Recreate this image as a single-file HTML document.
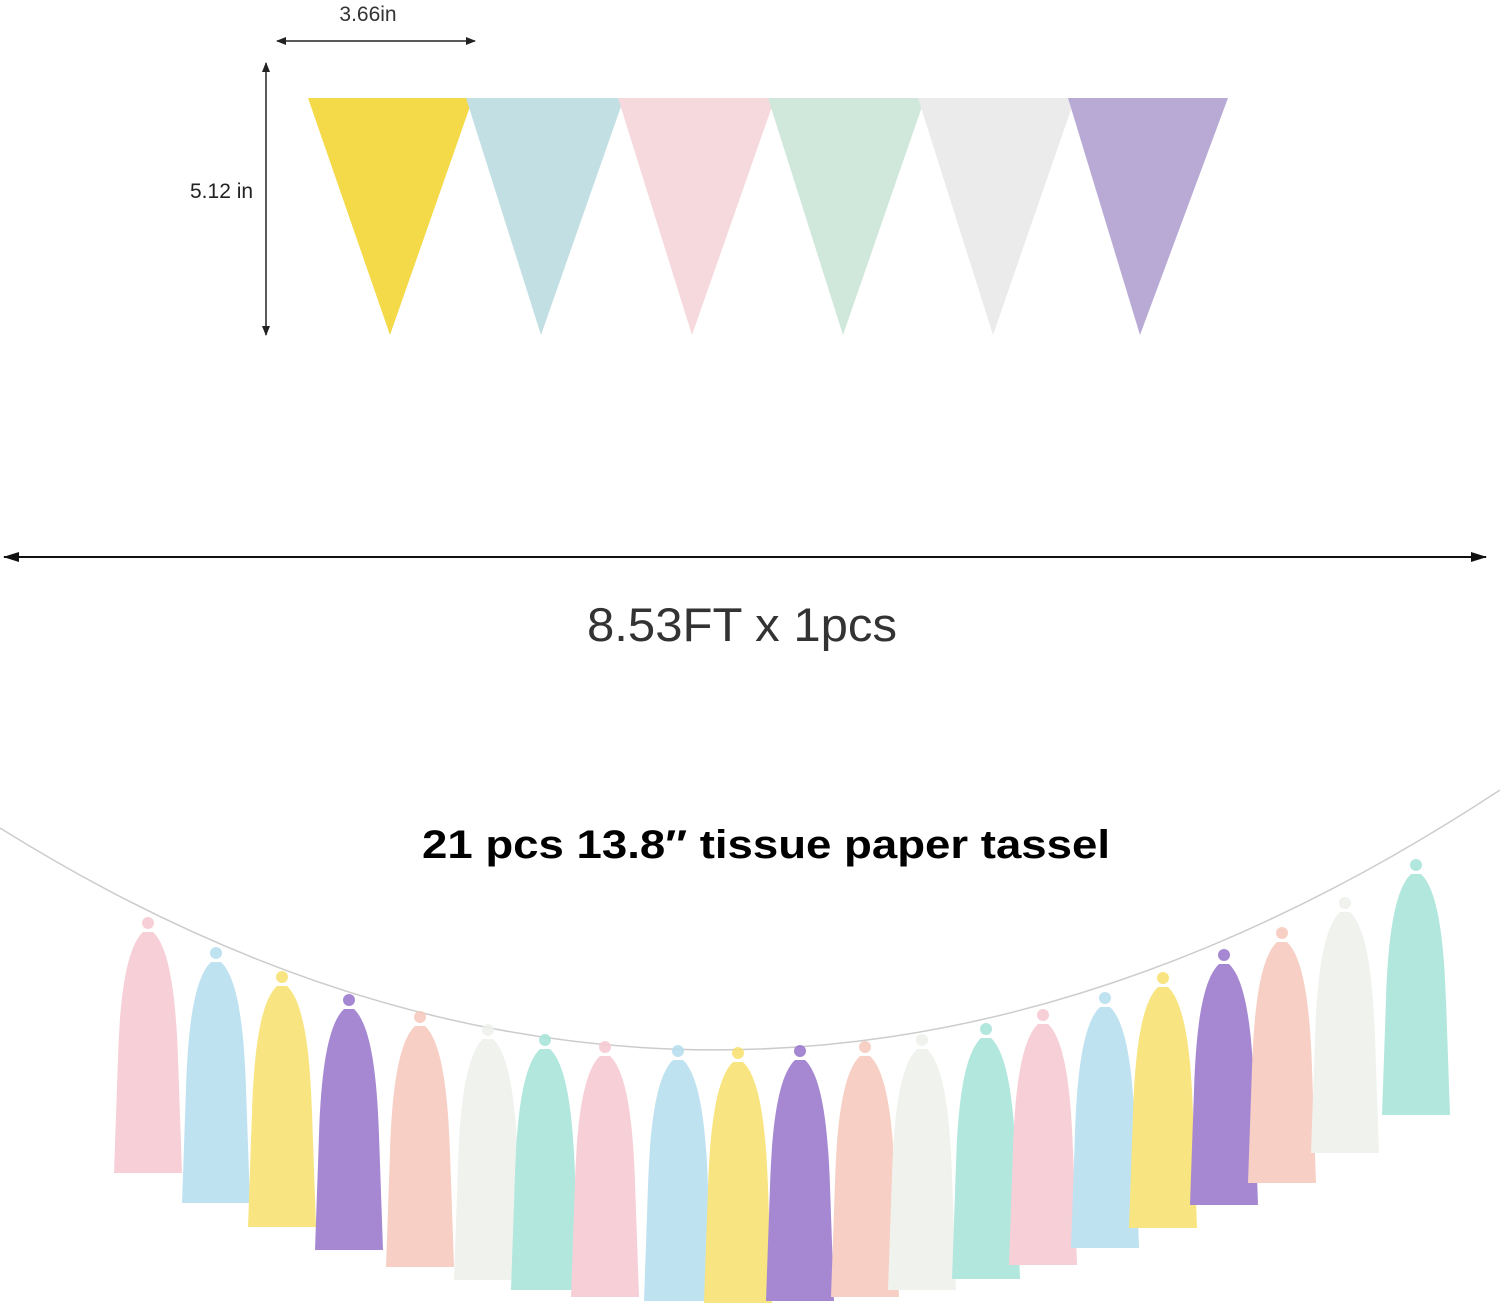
<!DOCTYPE html>
<html><head><meta charset="utf-8"><style>
html,body{margin:0;padding:0;background:#fff;}
svg{display:block}
</style></head><body>
<svg width="1500" height="1314" viewBox="0 0 1500 1314" xmlns="http://www.w3.org/2000/svg">
<defs>
<marker id="ah" markerWidth="10" markerHeight="8" refX="9" refY="4" orient="auto-start-reverse" markerUnits="userSpaceOnUse"><path d="M0,0 L10,4 L0,8 Z" fill="#222"/></marker>
<marker id="ah2" markerWidth="16" markerHeight="10" refX="15" refY="5" orient="auto-start-reverse" markerUnits="userSpaceOnUse"><path d="M0,0 L16,5 L0,10 Z" fill="#111"/></marker>
<g id="ts"><circle cx="0" cy="5" r="6"/><path d="M-5,14 L5,14 C22,30 28,80 30,140 L34,255 L-34,255 L-30,140 C-28,80 -22,30 -5,14 Z"/></g>
</defs>
<text x="368" y="21" font-family="Liberation Sans, sans-serif" font-size="21" fill="#333" text-anchor="middle">3.66in</text>
<line x1="277" y1="41" x2="475" y2="41" stroke="#222" stroke-width="1.5" marker-start="url(#ah)" marker-end="url(#ah)"/>
<line x1="266" y1="63" x2="266" y2="335" stroke="#222" stroke-width="1.5" marker-start="url(#ah)" marker-end="url(#ah)"/>
<text x="190" y="198" font-family="Liberation Sans, sans-serif" font-size="21" fill="#222">5.12 in</text>
<polygon points="308,98 473,98 390,335" fill="#f4da48"/>
<polygon points="466,98 624,98 541,335" fill="#c2dfe3"/>
<polygon points="618,98 775,98 692,335" fill="#f6d9dd"/>
<polygon points="768,98 925,98 843,335" fill="#d0e8dc"/>
<polygon points="918,98 1075,98 993,335" fill="#ebebeb"/>
<polygon points="1068,98 1228,98 1140,335" fill="#b9aad5"/>
<line x1="4" y1="557" x2="1486" y2="557" stroke="#111" stroke-width="2" marker-start="url(#ah2)" marker-end="url(#ah2)"/>
<text x="742" y="641" font-family="Liberation Sans, sans-serif" font-size="47" fill="#333" text-anchor="middle" textLength="310" lengthAdjust="spacingAndGlyphs">8.53FT x 1pcs</text>
<text x="422" y="858" font-family="Liberation Sans, sans-serif" font-weight="bold" font-size="40" fill="#000" textLength="688" lengthAdjust="spacingAndGlyphs">21 pcs 13.8″ tissue paper  tassel</text>
<path d="M0,828 Q740,1290 1500,790" fill="none" stroke="#ccc" stroke-width="1.5"/>
<g opacity="0.88">
<use href="#ts" transform="translate(148,918)" fill="#f6c9d2"/>
<use href="#ts" transform="translate(216,948)" fill="#b7def0"/>
<use href="#ts" transform="translate(282,972)" fill="#f7e270"/>
<use href="#ts" transform="translate(349,995)" fill="#9a78cc"/>
<use href="#ts" transform="translate(420,1012)" fill="#f6c9bd"/>
<use href="#ts" transform="translate(488,1025)" fill="#eef1ec"/>
<use href="#ts" transform="translate(545,1035)" fill="#a8e4da"/>
<use href="#ts" transform="translate(605,1042)" fill="#f6c9d2"/>
<use href="#ts" transform="translate(678,1046)" fill="#b7def0"/>
<use href="#ts" transform="translate(738,1048)" fill="#f7e270"/>
<use href="#ts" transform="translate(800,1046)" fill="#9a78cc"/>
<use href="#ts" transform="translate(865,1042)" fill="#f6c9bd"/>
<use href="#ts" transform="translate(922,1035)" fill="#eef1ec"/>
<use href="#ts" transform="translate(986,1024)" fill="#a8e4da"/>
<use href="#ts" transform="translate(1043,1010)" fill="#f6c9d2"/>
<use href="#ts" transform="translate(1105,993)" fill="#b7def0"/>
<use href="#ts" transform="translate(1163,973)" fill="#f7e270"/>
<use href="#ts" transform="translate(1224,950)" fill="#9a78cc"/>
<use href="#ts" transform="translate(1282,928)" fill="#f6c9bd"/>
<use href="#ts" transform="translate(1345,898)" fill="#eef1ec"/>
<use href="#ts" transform="translate(1416,860)" fill="#a8e4da"/>
</g>
</svg>
</body></html>
